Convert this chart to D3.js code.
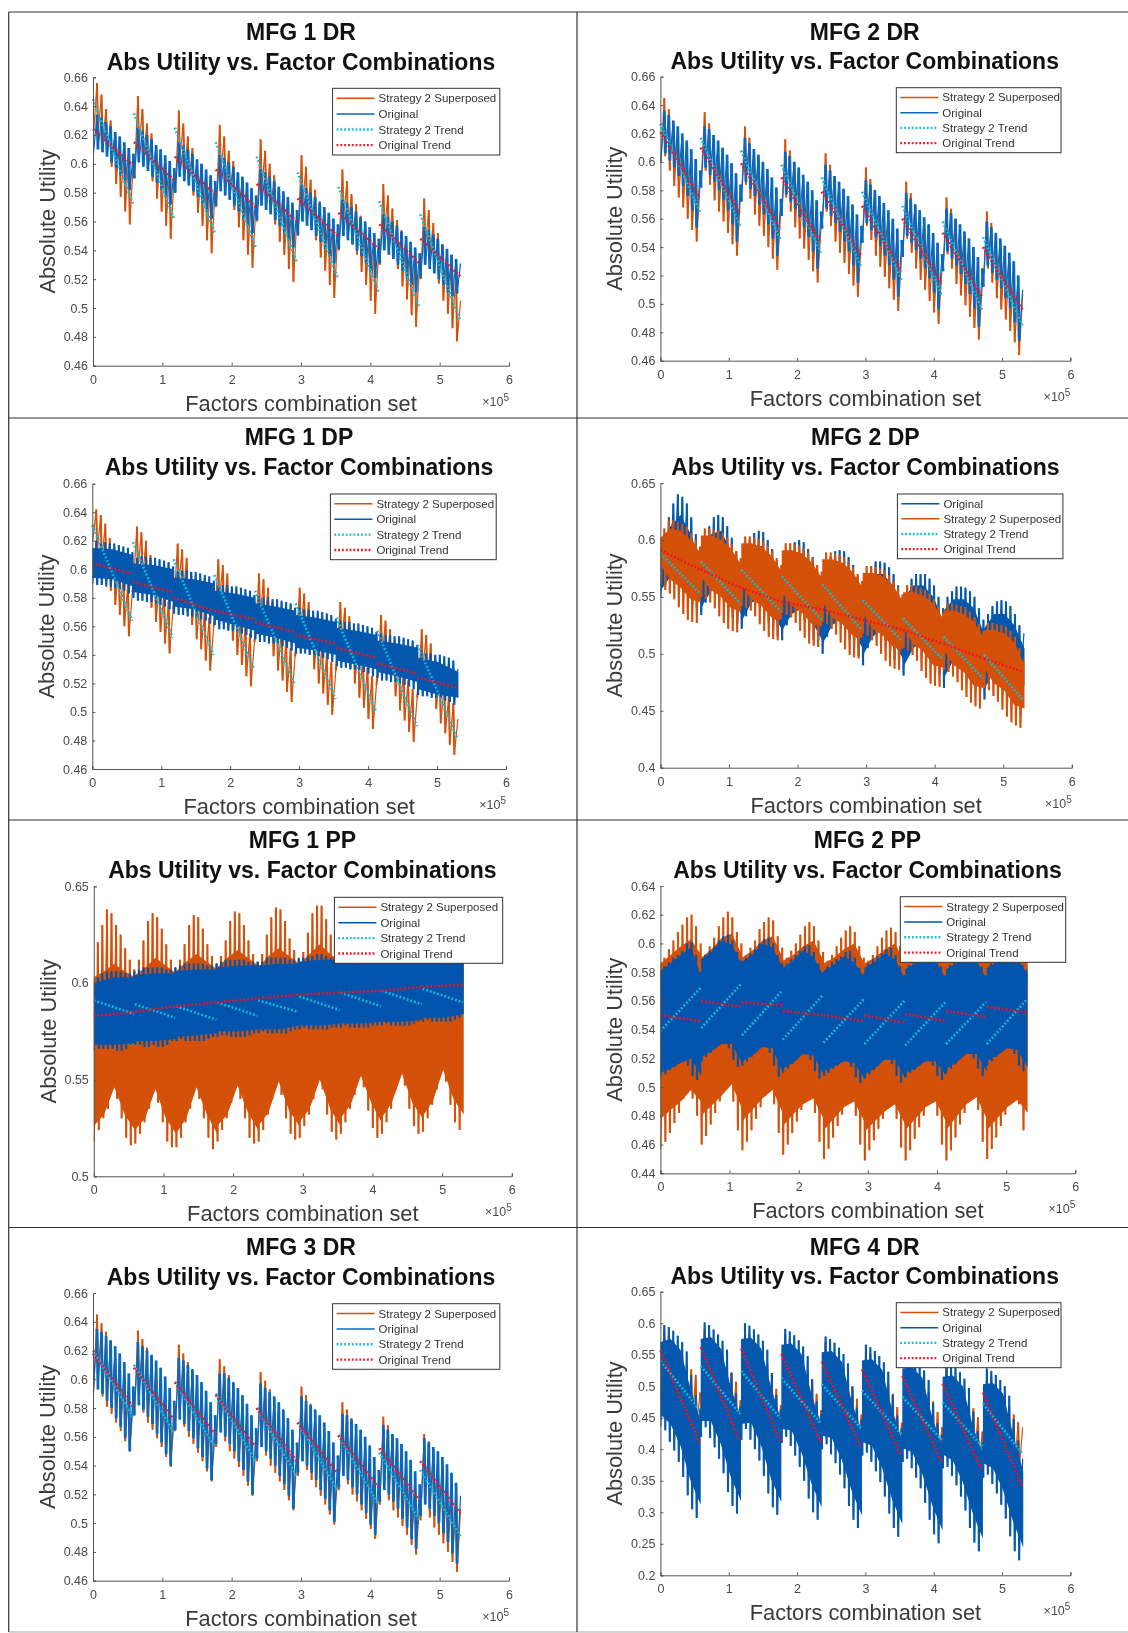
<!DOCTYPE html>
<html><head><meta charset="utf-8">
<script src="https://d3js.org/d3.v7.min.js"></script>
<style>
html,body{margin:0;padding:0;background:#fff;}
svg{display:block;filter:blur(0.6px);}
text{font-family:"Liberation Sans",Arial,sans-serif;}
</style></head><body>
<svg id="c" width="1128" height="1633"></svg>
<script>
// Values are thousandths of absolute utility, one row per factor block (9 blocks, 9 teeth each).
const xTickValues=[0,100000,200000,300000,400000,500000,600000];
const blockSpan=59000;
const seriesNames={orange:"Strategy 2 Superposed",blue:"Original",cyan:"Strategy 2 Trend",red:"Original Trend"};
const tick02=[0.46,0.48,0.5,0.52,0.54,0.56,0.58,0.6,0.62,0.64,0.66];
const ticksD=[0.4,0.45,0.5,0.55,0.6,0.65];
const ticksE=[0.5,0.55,0.6,0.65];
const ticksF=[0.44,0.46,0.48,0.5,0.52,0.54,0.56,0.58,0.6,0.62,0.64];
const ticksH=[0.2,0.25,0.3,0.35,0.4,0.45,0.5,0.55,0.6,0.65];

const m1drOrangeHi=[[656,648,638,630,622,616,610,606,602],[647,638,628,621,613,607,601,597,592],[637,628,619,611,603,597,591,587,582],[627,619,609,602,594,588,582,578,572],[617,609,600,592,584,578,572,568,563],[606,598,589,582,574,568,562,558,553],[596,588,579,572,564,558,552,548,542],[586,578,569,561,554,548,542,538,533],[576,568,559,552,544,538,532,526,505]];
const m1drOrangeLo=[[620,622,615,606,598,586,577,567,558],[590,612,605,596,588,576,567,557,548],[580,603,596,587,578,566,557,547,538],[570,593,586,577,568,556,547,537,528],[560,583,576,567,558,546,537,527,518],[550,572,565,556,547,535,526,516,507],[540,562,555,546,537,525,516,505,496],[530,552,545,536,527,515,506,495,487],[520,542,535,526,517,505,496,486,477]];
const m1drBlueHi=[[634,632,629,626,622,619,615,611,607],[625,623,620,617,613,610,606,602,597],[615,613,610,607,603,600,596,592,588],[606,604,601,598,594,591,587,583,578],[596,594,591,588,584,581,577,573,568],[585,583,580,577,573,570,566,562,558],[575,573,570,567,563,560,556,552,548],[565,563,560,557,553,550,546,542,538],[556,554,551,548,544,541,537,534,531]];
const m1drBlueLo=[[607,610,608,605,601,597,592,587,582],[590,601,598,595,591,587,582,577,572],[580,591,588,585,581,577,572,567,562],[571,581,578,575,571,567,562,557,552],[561,571,568,565,561,557,552,547,542],[551,560,557,554,550,546,541,536,531],[541,550,547,544,540,536,531,526,521],[531,540,537,534,530,526,521,516,511],[521,530,527,524,520,516,511,508,510]];
const m1drCyan=[[645,572],[635,562],[625,552],[615,542],[605,532],[594,521],[584,511],[574,500],[565,491]];
const m1drRed=[[624,599],[615,589],[605,579],[596,570],[586,560],[576,550],[566,541],[558,531],[548,522]];

const m2drOrangeHi=[[645,637,629,621,612,606,600,592,585],[635,627,619,611,602,596,590,582,575],[625,617,609,601,592,586,580,572,565],[616,608,600,592,583,576,570,562,555],[606,598,590,582,573,566,560,552,545],[596,588,580,572,563,556,550,542,535],[586,578,570,562,553,546,540,532,525],[575,567,559,551,542,535,529,521,514],[565,557,549,541,532,525,519,511,507]];
const m2drOrangeLo=[[600,604,594,583,575,568,560,552,544],[585,594,584,573,565,558,550,542,534],[575,584,574,563,555,548,540,532,524],[565,575,565,554,546,539,531,523,515],[555,565,555,544,536,529,521,513,505],[545,555,545,534,526,519,511,503,495],[535,546,536,525,517,510,502,494,486],[525,535,525,514,506,499,491,483,475],[515,525,515,504,496,489,481,473,464]];
const m2drBlueHi=[[636,633,629,625,620,615,609,602,594],[625,623,619,615,610,605,599,592,584],[617,613,609,605,600,595,589,582,574],[607,604,600,596,591,586,580,573,565],[598,594,590,586,581,576,570,563,555],[587,584,580,576,571,566,560,553,545],[578,574,570,566,561,556,550,543,535],[567,564,560,556,551,546,540,533,525],[558,554,550,546,541,536,530,520,510]];
const m2drBlueLo=[[600,606,601,596,590,583,576,566,554],[582,596,591,586,580,573,566,556,544],[572,586,581,576,570,563,556,546,534],[562,577,572,567,561,554,547,537,525],[553,567,562,557,551,544,537,527,515],[543,557,552,547,541,534,527,517,505],[533,548,543,538,532,525,518,508,496],[523,537,532,527,521,514,507,497,484],[512,527,522,517,511,504,497,487,474]];
const m2drCyan=[[627,565],[617,555],[608,545],[598,536],[589,526],[579,517],[569,506],[558,496],[547,485]];
const m2drRed=[[621,575],[610,564],[599,553],[589,543],[579,534],[569,523],[560,514],[550,505],[540,496]];

const m1dpOrangeHi=[[642,638,632,622,612,604,596,590,584],[630,626,620,610,600,592,584,578,572],[618,614,608,598,588,580,572,566,560],[607,603,597,587,577,569,561,555,549],[597,593,587,577,567,559,551,545,539],[587,583,577,567,557,549,541,535,529],[577,573,567,557,547,539,531,525,519],[568,564,558,548,538,530,522,516,510],[558,554,548,538,528,520,512,506,495]];
const m1dpOrangeLo=[[620,612,605,595,585,575,568,560,553],[590,600,593,583,573,563,556,548,541],[578,588,581,571,561,551,544,536,529],[567,577,570,560,550,540,533,525,518],[556,566,559,549,539,529,522,514,507],[546,557,550,540,530,520,513,505,498],[536,547,540,530,520,510,503,495,488],[526,538,531,521,511,501,494,486,479],[517,529,522,512,502,492,485,477,470]];
const m1dpBlueHi=[[620,619,619,618,618,617,616,615,612],[608,609,609,608,608,607,606,605,602],[599,599,599,598,598,597,596,595,592],[589,589,589,588,588,587,586,585,582],[581,580,580,579,579,578,577,576,573],[573,572,572,571,571,570,569,568,565],[564,563,563,562,562,561,560,559,556],[555,554,554,553,553,552,551,550,547],[543,541,541,540,540,539,538,536,530]];
const m1dpBlueLo=[[590,589,589,588,588,587,586,585,583],[580,578,578,577,577,576,575,574,572],[569,568,568,567,567,566,565,564,562],[561,558,558,557,557,556,555,554,552],[551,549,549,548,548,547,546,545,543],[541,541,541,540,540,539,538,537,535],[532,531,531,530,530,529,528,527,525],[524,522,522,521,521,520,519,518,516],[512,511,511,510,510,509,508,507,505]];
const m1dpBlueCoreHi=[[615,614,610],[604,603,600],[594,593,590],[585,583,580],[576,574,571],[568,566,563],[559,557,554],[550,548,545],[538,535,528]];
const m1dpBlueCoreLo=[[594,593,588],[584,582,577],[574,572,567],[565,561,557],[555,552,548],[545,543,540],[536,533,530],[528,525,521],[516,512,510]];
const m1dpCyan=[[631,564],[619,552],[607,540],[596,530],[585,519],[576,509],[566,500],[557,490],[547,481]];
const m1dpRed=[[604,597],[591,584],[580,571],[571,565],[563,556],[554,548],[545,538],[534,527],[524,517]];

const m2dpBlueHi=[[605,620,632,640,638,632,620,605,594],[600,612,620,622,620,612,602,590,582],[590,600,606,608,607,600,592,582,572],[585,592,598,600,598,592,585,575,565],[578,585,590,591,590,585,578,568,558],[570,577,581,581,580,576,570,560,550],[560,566,570,570,570,566,560,550,540],[550,555,559,559,558,555,550,540,530],[535,542,546,547,546,542,535,525,518]];
const m2dpBlueLo=[[550,560,570,575,570,565,555,545,540],[534,545,555,560,555,550,540,532,526],[522,533,542,545,542,538,528,520,515],[512,525,535,538,535,530,520,512,506],[500,515,528,530,528,522,512,505,498],[490,505,518,520,518,512,502,495,490],[481,498,508,510,508,502,495,488,482],[470,488,498,500,498,492,485,478,472],[460,478,488,490,488,482,475,468,470]];
const m2dpBlueCoreHi=[[590,612,622,605,580],[585,605,608,590,568],[575,592,595,580,558],[570,585,588,575,552],[565,578,580,568,545],[558,570,570,560,538],[548,560,560,550,528],[538,548,548,540,518],[522,535,535,525,505]];
const m2dpBlueCoreLo=[[555,568,572,560,545],[540,555,560,548,535],[528,545,548,535,522],[520,535,540,528,512],[508,525,532,520,505],[498,515,522,510,496],[488,505,512,500,488],[478,495,502,490,478],[468,485,492,480,472]];
const m2dpOrangeHi=[[610,617,617,616,614,612,606,600,594],[610,610,609,608,606,602,596,590,584],[603,603,602,601,599,595,590,584,578],[597,597,596,595,593,589,584,578,572],[589,589,588,587,585,581,576,570,564],[577,577,576,575,573,569,564,558,552],[560,560,559,558,556,553,548,542,536],[544,544,543,542,541,537,532,526,520],[527,527,526,525,524,520,515,505,495]];
const m2dpOrangeLo=[[560,556,553,548,541,535,530,528,527],[550,548,545,540,533,527,522,520,519],[542,540,538,533,526,520,515,513,512],[536,534,532,527,520,514,509,507,506],[528,526,522,517,510,504,499,497,496],[518,516,512,507,500,494,489,487,486],[505,503,499,494,485,479,474,472,471],[486,484,480,475,468,462,457,454,452],[470,468,463,458,451,445,440,437,435]];
const m2dpOrangeCoreHi=[[602,610,608,600,588],[604,604,600,592,578],[597,597,594,586,572],[591,591,588,580,566],[583,583,580,572,558],[571,571,568,560,546],[554,554,551,544,530],[538,538,535,528,514],[521,521,518,510,490]];
const m2dpOrangeCoreLo=[[578,565,558,548,545],[568,556,550,540,537],[560,548,542,532,530],[554,542,536,526,524],[546,532,526,516,514],[536,522,516,506,504],[523,509,502,490,488],[504,490,484,472,470],[488,474,468,455,452]];
const m2dpCyan=[[588,553],[581,544],[574,537],[568,530],[561,521],[547,511],[531,495],[515,478],[499,459]];
const m2dpRed=[[591,574],[574,558],[558,546],[546,539],[539,530],[530,521],[521,509],[509,496],[496,484]];

const m1ppOrangeHi=[[621,630,638,636,630,625,618,612,607],[612,622,632,636,634,628,620,612,608],[612,620,630,635,634,628,620,614,610],[614,622,632,637,636,630,622,615,611],[615,625,634,639,638,632,623,617,612],[616,626,636,640,640,633,625,618,614],[618,628,636,640,639,632,625,620,616],[620,630,637,640,639,632,625,620,617],[620,630,637,640,638,632,626,622,618]];
const m1ppOrangeLo=[[518,524,530,535,548,540,530,520,516],[517,522,528,535,545,538,528,518,515],[515,520,528,535,547,540,530,520,514],[518,524,530,538,547,540,530,520,517],[518,524,532,540,550,542,530,522,519],[520,526,532,540,551,545,532,523,519],[522,528,535,542,552,546,534,525,520],[522,528,535,545,554,547,535,526,522],[523,530,537,545,556,549,537,528,524]];
const m1ppOrangeCoreHi=[[603,606,610,606,603],[604,608,613,609,605],[606,611,615,611,607],[608,613,617,613,609],[608,614,618,614,610],[610,615,620,615,611],[611,616,620,616,612],[612,617,621,617,613],[613,618,622,618,614]];
const m1ppOrangeCoreLo=[[526,532,546,532,524],[524,530,545,530,522],[522,530,546,532,522],[526,532,547,533,524],[526,533,549,534,526],[528,535,550,535,526],[530,537,552,538,528],[530,538,553,538,530],[531,539,555,540,532]];
const m1ppBlueHi=[[603,605,606,606,606,606,605,605,606],[607,608,608,608,608,608,607,607,608],[609,610,610,610,610,610,609,609,610],[611,612,612,612,612,612,611,611,611],[611,613,613,613,613,613,612,612,613],[613,614,614,615,615,614,613,613,614],[614,615,615,615,615,615,614,614,615],[615,616,616,616,616,616,615,615,616],[616,617,617,617,617,617,616,616,617]];
const m1ppBlueLo=[[565,566,566,566,566,565,565,566,568],[568,568,567,567,568,567,567,568,570],[570,571,570,570,570,570,570,571,572],[572,573,573,572,572,572,572,573,574],[574,575,574,574,574,574,574,575,576],[576,577,576,576,576,576,576,577,577],[577,578,577,577,577,577,577,578,578],[578,579,578,578,578,578,578,579,580],[580,581,580,580,580,580,580,581,582]];
const m1ppBlueCoreHi=[[600,603,603],[604,605,605],[606,607,607],[608,609,609],[609,610,610],[611,612,612],[612,613,613],[613,614,614],[614,615,615]];
const m1ppBlueCoreLo=[[568,568,569],[570,570,571],[572,573,574],[575,575,576],[576,576,578],[578,578,579],[579,579,580],[580,580,581],[582,582,584]];
const m1ppCyan=[[591,584],[589,582],[588,581],[590,583],[591,585],[593,586],[595,588],[596,589],[597,590]];
const m1ppRed=[[583,585],[585,588],[588,590],[590,592],[592,594],[594,595],[595,596],[596,598],[598,599]];

const m2ppOrangeHi=[[590,596,602,608,613,618,620,612,600],[592,598,604,612,618,622,618,608,600],[592,597,602,610,615,618,616,605,597],[590,595,600,606,612,615,612,602,594],[588,592,598,604,609,612,608,598,590],[588,592,598,604,609,611,608,598,590],[588,592,598,604,609,611,607,597,590],[588,592,598,604,609,611,608,598,590],[590,594,600,606,610,612,608,598,592]];
const m2ppOrangeLo=[[457,462,468,475,482,492,498,492,480],[460,466,474,482,490,498,503,490,470],[456,462,470,478,486,494,500,488,468],[453,460,468,476,484,490,493,482,462],[450,457,465,473,481,488,492,480,460],[449,456,463,471,478,485,489,478,458],[449,456,464,472,480,488,492,480,460],[449,456,465,474,482,490,495,484,462],[450,457,465,473,481,488,493,488,470]];
const m2ppOrangeCoreHi=[[586,592,598,603,592],[590,596,604,607,592],[590,595,602,605,590],[588,592,598,602,588],[586,590,596,600,586],[586,590,596,600,586],[586,590,596,600,586],[586,590,596,600,586],[588,592,598,600,588]];
const m2ppOrangeCoreLo=[[478,484,490,498,490],[480,487,494,502,485],[476,484,492,498,482],[473,481,488,492,478],[470,478,486,490,476],[469,476,483,488,474],[470,478,486,490,476],[470,479,488,493,478],[470,478,486,491,482]];
const m2ppBlueHi=[[584,587,590,592,595,600,601,592,580],[592,595,598,602,605,606,602,594,588],[590,593,596,600,603,604,600,592,586],[586,589,592,595,598,599,594,586,580],[584,587,589,591,594,595,590,583,579],[586,589,591,593,596,597,592,584,578],[585,588,590,592,595,596,591,584,578],[585,588,590,592,595,596,591,584,578],[586,589,592,594,596,597,592,585,582]];
const m2ppBlueLo=[[507,509,512,514,517,519,515,508,505],[518,521,524,527,530,531,527,519,514],[515,518,521,524,528,529,524,515,507],[510,513,516,519,523,524,519,511,506],[508,510,513,515,518,519,514,507,503],[506,509,512,515,519,520,516,508,503],[507,510,512,515,518,519,515,508,505],[510,513,516,520,524,525,520,513,508],[515,518,521,524,527,528,523,515,511]];
const m2ppBlueCoreHi=[[581,586,592,597,577],[589,594,602,599,585],[587,592,600,597,583],[583,588,595,591,577],[581,585,591,587,576],[583,587,593,589,575],[582,586,592,588,575],[582,586,592,588,575],[583,587,593,589,579]];
const m2ppBlueCoreLo=[[510,513,517,520,508],[521,525,530,530,517],[518,522,528,527,510],[513,517,523,522,509],[511,514,518,517,506],[509,513,519,519,506],[510,513,518,518,508],[513,517,523,523,511],[518,522,527,526,514]];
const m2ppCyan=[[539,569],[541,572],[536,567],[533,564],[531,561],[530,560],[529,559],[530,559],[530,561]];
const m2ppRed=[[550,546],[560,556],[559,557],[553,550],[550,546],[550,545],[551,546],[553,549],[556,552]];

const m3drOrangeHi=[[645,639,633,627,619,612,604,595,585],[634,628,622,616,608,601,593,584,574],[624,618,612,606,598,591,583,574,564],[614,609,603,597,589,582,574,565,555],[605,599,593,587,579,572,564,555,545],[595,589,583,577,569,562,554,545,535],[584,579,573,567,559,552,544,535,525],[574,568,562,556,548,541,533,524,514],[562,557,551,545,537,530,522,513,510]];
const m3drOrangeLo=[[590,600,588,581,576,570,564,557,550],[575,589,577,570,565,559,553,546,539],[564,579,567,560,555,549,543,536,529],[553,569,557,550,545,539,533,526,519],[543,559,547,540,535,529,523,516,509],[533,549,537,530,525,519,513,506,499],[523,539,527,520,515,509,503,496,489],[513,528,516,509,504,498,492,485,478],[502,516,504,497,492,486,480,473,466]];
const m3drBlueHi=[[635,633,630,627,623,618,612,604,595],[626,623,620,617,613,608,602,594,585],[615,613,610,607,603,598,592,584,575],[604,604,601,598,594,589,583,575,566],[597,594,591,588,584,579,573,565,556],[588,585,582,579,575,570,564,556,547],[576,575,572,569,565,560,554,546,537],[568,565,562,559,555,550,544,536,527],[559,556,553,550,546,541,535,528,519]];
const m3drBlueLo=[[591,593,590,585,580,573,567,559,550],[575,582,579,574,569,562,556,548,540],[565,572,569,564,559,552,546,538,530],[555,563,560,555,550,543,537,529,520],[545,553,550,545,540,533,527,519,510],[535,543,540,535,530,523,517,509,501],[525,533,530,525,520,513,507,499,492],[515,523,520,515,510,503,497,489,482],[505,513,510,505,500,493,487,479,472]];
const m3drCyan=[[620,574],[610,563],[598,553],[590,543],[580,533],[570,523],[561,513],[549,502],[537,491]];
const m3drRed=[[618,581],[608,572],[598,562],[589,553],[580,543],[570,535],[561,525],[552,516],[543,507]];

const m4drOrangeHi=[[587,580,570,558,548,535,527,518,490],[590,583,572,560,548,535,522,507,478],[590,583,572,560,548,534,518,496,470],[582,575,564,552,540,526,510,488,462],[570,563,552,540,528,514,500,480,455],[558,551,540,528,516,502,488,467,442],[546,539,528,516,504,490,476,459,435],[534,527,516,504,492,478,465,451,428],[522,515,504,492,480,468,455,443,435]];
const m4drOrangeLo=[[480,475,468,460,455,450,445,442,440],[465,462,458,452,447,442,438,435,432],[460,457,453,447,442,437,432,428,425],[450,447,443,437,432,427,422,418,415],[442,439,435,429,424,419,414,410,407],[432,429,425,419,414,409,404,400,397],[422,419,415,409,404,399,394,390,387],[413,410,406,400,395,390,385,381,378],[405,402,398,392,387,382,377,372,368]];
const m4drBlueHi=[[597,594,588,580,570,555,518,486,465],[601,597,590,582,572,558,521,489,468],[600,596,590,582,572,558,521,486,463],[591,587,581,573,563,548,511,476,456],[579,575,569,561,551,536,499,466,446],[566,562,556,548,538,523,486,453,433],[553,549,543,535,525,510,473,441,423],[540,536,530,522,512,497,460,429,411],[528,524,518,510,500,485,448,414,385]];
const m4drBlueLo=[[436,430,412,398,380,356,327,305,291],[420,435,418,403,385,362,332,310,298],[415,432,415,400,382,358,330,308,296],[410,420,405,390,372,350,322,300,288],[400,408,392,378,360,338,310,288,275],[390,395,380,365,348,325,298,275,261],[380,385,370,355,338,315,288,265,251],[370,372,358,343,325,303,275,252,238],[355,360,345,330,312,290,262,238,224]];
const m4drBlueCoreHi=[[570,575,558,495,445],[575,578,560,498,449],[575,577,560,497,445],[566,568,551,487,437],[554,556,539,475,427],[541,543,526,462,414],[528,530,513,449,403],[515,517,500,437,391],[503,505,488,423,365]];
const m4drBlueCoreLo=[[455,440,405,350,312],[445,445,408,355,318],[440,442,405,352,316],[432,430,395,345,308],[422,418,383,333,295],[412,405,370,320,281],[402,395,360,310,271],[392,382,348,298,258],[378,370,335,285,244]];
const m4drCyan=[[540,462],[532,456],[524,449],[513,441],[503,433],[493,424],[483,415],[474,405],[472,393]];
const m4drRed=[[557,408],[562,411],[560,412],[551,411],[539,403],[527,389],[516,379],[504,366],[490,340]];

const panels=[
 {title:"MFG 1 DR",rect:[93,509,77.3,365.7],tt:[31.7,61.7],cx:301,yt:tick02,lg:[332.6,499.8,88.3,155],
  orange:[m1drOrangeHi,m1drOrangeLo],blue:[m1drBlueHi,m1drBlueLo],cyan:m1drCyan,red:m1drRed,blueColor:"#0A68BC"},
 {title:"MFG 2 DR",rect:[660.4,1070.4,76.7,360.7],tt:[31.7,61],cx:864.7,yt:tick02,lg:[896.3,1061,87.7,152.7],
  orange:[m2drOrangeHi,m2drOrangeLo],blue:[m2drBlueHi,m2drBlueLo],cyan:m2drCyan,red:m2drRed,blueColor:"#0A68BC"},
 {title:"MFG 1 DP",rect:[92.3,506,483.7,769],tt:[437.3,467.3],cx:299,yt:tick02,lg:[330.4,496.2,494,559.7],
  orange:[m1dpOrangeHi,m1dpOrangeLo],blue:[m1dpBlueHi,m1dpBlueLo,m1dpBlueCoreHi,m1dpBlueCoreLo],cyan:m1dpCyan,red:m1dpRed,blueColor:"#0458AE"},
 {title:"MFG 2 DP",rect:[660.4,1071.8,483,767.7],tt:[437,467],cx:865.4,yt:ticksD,lg:[897.4,1062.9,494,558.7],originalFirst:true,
  orange:[m2dpOrangeHi,m2dpOrangeLo,m2dpOrangeCoreHi,m2dpOrangeCoreLo],blue:[m2dpBlueHi,m2dpBlueLo,m2dpBlueCoreHi,m2dpBlueCoreLo],cyan:m2dpCyan,red:m2dpRed,blueColor:"#0458AE"},
 {title:"MFG 1 PP",rect:[93.8,511.8,886.3,1176.3],tt:[840,870],cx:302.4,yt:ticksE,lg:[334.4,502.7,897.3,963.3],
  orange:[m1ppOrangeHi,m1ppOrangeLo,m1ppOrangeCoreHi,m1ppOrangeCoreLo],blue:[m1ppBlueHi,m1ppBlueLo,m1ppBlueCoreHi,m1ppBlueCoreLo],cyan:m1ppCyan,red:m1ppRed,blueColor:"#0254AC"},
 {title:"MFG 2 PP",rect:[660.4,1075.3,886,1173.3],tt:[840,870],cx:867.5,yt:ticksF,lg:[900.3,1065.7,896.7,962.3],
  orange:[m2ppOrangeHi,m2ppOrangeLo,m2ppOrangeCoreHi,m2ppOrangeCoreLo],blue:[m2ppBlueHi,m2ppBlueLo,m2ppBlueCoreHi,m2ppBlueCoreLo],cyan:m2ppCyan,red:m2ppRed,blueColor:"#0254AC"},
 {title:"MFG 3 DR",rect:[93,509,1293,1580.7],tt:[1246.7,1276.7],cx:301,yt:tick02,lg:[332.6,499.8,1303.7,1369.3],
  orange:[m3drOrangeHi,m3drOrangeLo],blue:[m3drBlueHi,m3drBlueLo],cyan:m3drCyan,red:m3drRed,blueColor:"#0A68BC"},
 {title:"MFG 4 DR",rect:[660.4,1070.4,1291.7,1575.3],tt:[1246.7,1276],cx:864.7,yt:ticksH,lg:[896.3,1061,1302.7,1367.7],
  orange:[m4drOrangeHi,m4drOrangeLo],blue:[m4drBlueHi,m4drBlueLo,m4drBlueCoreHi,m4drBlueCoreLo],cyan:m4drCyan,red:m4drRed,blueColor:"#0458AE"}
];

const orangeColor="#D4510A",cyanColor="#10BCDC",redColor="#F81020",inkColor="#3A3A3A";
const svg=d3.select("#c");

function drawSeries(g,x,y,data,color,barWidth){
  const [hi,lo,coreHi,coreLo]=data;
  const line=d3.line().x(d=>x(d[0])).y(d=>y(d[1]/1000));
  if(coreHi){
    const area=d3.area().x(d=>x(d[0])).y0(d=>y(d[1]/1000)).y1(d=>y(d[2]/1000));
    coreHi.forEach((row,s)=>{
      const pts=row.map((v,k)=>[(s+k/(row.length-1))*blockSpan,v,coreLo[s][k]]);
      g.append("path").attr("d",area(pts)).attr("fill",color);
    });
  }
  const zig=[];
  hi.forEach((row,s)=>row.forEach((v,i)=>{
    zig.push([(s+(i+0.1)/9)*blockSpan,lo[s][i]]);
    zig.push([(s+(i+0.87)/9)*blockSpan,v]);
  }));
  g.append("path").attr("d",line(zig)).attr("fill","none").attr("stroke",color).attr("stroke-width",1.2);
  let bars="";
  for(let k=1;k+1<zig.length;k+=2) bars+=line([zig[k],zig[k+1]]);
  g.append("path").attr("d",bars).attr("fill","none").attr("stroke",color).attr("stroke-width",coreHi?2.1:barWidth);
}
function drawTrend(g,x,y,rows,color){
  const line=d3.line().x(d=>x(d[0])).y(d=>y(d[1]/1000));
  rows.forEach((r,s)=>{
    g.append("path").attr("d",line([[s*blockSpan,r[0]],[(s+0.98)*blockSpan,r[1]]]))
     .attr("fill","none").attr("stroke",color).attr("stroke-width",2.6).attr("stroke-dasharray","1.8 2");
  });
}

panels.forEach(p=>{
  const [l,r,t,b]=p.rect;
  const x=d3.scaleLinear().domain([0,600000]).range([l,r]);
  const y=d3.scaleLinear().domain(d3.extent(p.yt)).range([b,t]);
  const g=svg.append("g");
  if(p.originalFirst){drawSeries(g,x,y,p.blue,p.blueColor,2.8);drawSeries(g,x,y,p.orange,orangeColor,2);}
  else{drawSeries(g,x,y,p.orange,orangeColor,2);drawSeries(g,x,y,p.blue,p.blueColor,2.8);}
  drawTrend(g,x,y,p.cyan,cyanColor);
  drawTrend(g,x,y,p.red,redColor);

  const ax=g.append("g").attr("transform",`translate(0,${b})`)
    .call(d3.axisBottom(x).tickValues(xTickValues).tickFormat(d=>d/100000).tickSize(-3).tickPadding(9));
  const ay=g.append("g").attr("transform",`translate(${l},0)`)
    .call(d3.axisLeft(y).tickValues(p.yt).tickFormat(d=>String(d)).tickSize(-3).tickPadding(5));
  [ax,ay].forEach(a=>{
    a.selectAll("path").attr("stroke","#555").attr("stroke-width",1);
    a.selectAll("line").attr("stroke","#555").attr("stroke-width",1);
    a.selectAll("text").attr("fill","#4a4a4a").attr("font-size",12.5).attr("font-family","Liberation Sans");
  });

  g.append("text").attr("x",p.cx).attr("y",p.tt[0]+8).attr("text-anchor","middle").attr("font-weight","bold").attr("font-size",23).attr("fill","#111").text(p.title);
  g.append("text").attr("x",p.cx).attr("y",p.tt[1]+8).attr("text-anchor","middle").attr("font-weight","bold").attr("font-size",23).attr("fill","#111").text("Abs Utility vs. Factor Combinations");
  g.append("text").attr("x",(l+r)/2).attr("y",b+45).attr("text-anchor","middle").attr("font-size",21.8).attr("fill",inkColor).text("Factors combination set");
  g.append("text").attr("transform",`translate(${l-38},${(t+b)/2}) rotate(-90)`).attr("text-anchor","middle").attr("font-size",21.8).attr("fill",inkColor).text("Absolute Utility");
  const exp=g.append("text").attr("x",r).attr("y",b+40).attr("text-anchor","end").attr("font-size",12.5).attr("fill","#4a4a4a");
  exp.append("tspan").text("×10");
  exp.append("tspan").attr("dy",-5).attr("font-size",10).text("5");

  const [lx0,lx1,ly0,ly1]=p.lg;
  const lg=g.append("g");
  lg.append("rect").attr("x",lx0).attr("y",ly0).attr("width",lx1-lx0).attr("height",ly1-ly0).attr("fill","#fff").attr("stroke","#333").attr("stroke-width",1);
  const order=p.originalFirst?["blue","orange","cyan","red"]:["orange","blue","cyan","red"];
  const colorOf={orange:orangeColor,blue:p.blueColor,cyan:cyanColor,red:redColor};
  order.forEach((k,i)=>{
    const ey=ly0+(ly1-ly0)*(0.15+i*0.234);
    const ln=lg.append("line").attr("x1",lx0+4).attr("x2",lx0+42).attr("y1",ey).attr("y2",ey).attr("stroke",colorOf[k]).attr("stroke-width",(k==="cyan"||k==="red")?2.4:1.5);
    if(k==="cyan"||k==="red") ln.attr("stroke-dasharray","1.8 2");
    lg.append("text").attr("x",lx0+46).attr("y",ey+4).attr("font-size",11.5).attr("fill","#333").text(seriesNames[k]);
  });
});

// frame rules of the composite figure
const frameH=[12,418,820,1227.5,1632];
const frameV=[[8.7,12,1632],[577,12,1632]];
frameH.forEach((v,i)=>svg.append("line").attr("x1",8.7).attr("x2",1128).attr("y1",v).attr("y2",v).attr("stroke",i===4?"#aaa":"#333").attr("stroke-width",1.2));
frameV.forEach(v=>svg.append("line").attr("x1",v[0]).attr("x2",v[0]).attr("y1",v[1]).attr("y2",v[2]).attr("stroke","#333").attr("stroke-width",1.2));
</script>
</body></html>
